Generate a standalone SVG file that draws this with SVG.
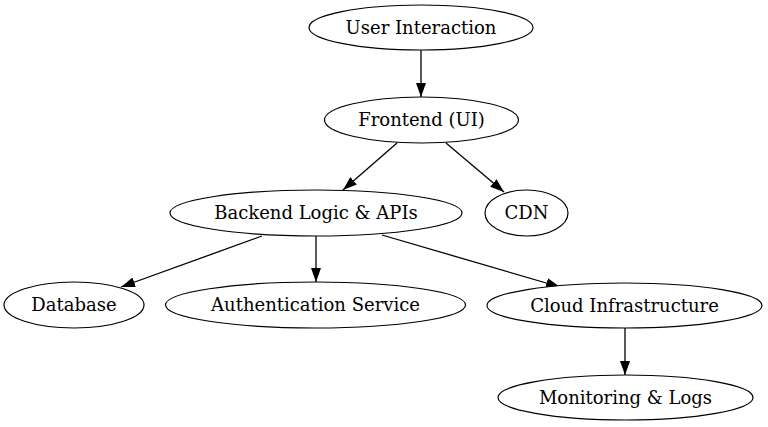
<svg xmlns="http://www.w3.org/2000/svg" width="768" height="427" viewBox="0 0 768 427">
<style>
.n ellipse{fill:#fff;stroke:#000;stroke-width:1.2}
.n text{font-family:"DejaVu Serif",serif;font-size:18px;text-anchor:middle;fill:#000}
.e line{stroke:#000;stroke-width:1.3}
</style>
<defs>
<marker id="a" viewBox="0 0 14 10" refX="14" refY="5" markerWidth="14" markerHeight="10" markerUnits="userSpaceOnUse" orient="auto">
<path d="M0,0L14,5L0,10z" fill="#000"/>
</marker>
</defs>
<rect width="768" height="427" fill="#fff"/>
<g id="edges" class="e">
<line x1="421" y1="50" x2="421" y2="97" marker-end="url(#a)"/>
<line x1="397" y1="143" x2="343" y2="190" marker-end="url(#a)"/>
<line x1="446" y1="143" x2="504" y2="192" marker-end="url(#a)"/>
<line x1="262" y1="236" x2="121" y2="287" marker-end="url(#a)"/>
<line x1="316" y1="236" x2="316" y2="282" marker-end="url(#a)"/>
<line x1="382" y1="235" x2="560" y2="287" marker-end="url(#a)"/>
<line x1="625" y1="328" x2="625" y2="375" marker-end="url(#a)"/>
</g>
<g id="user" class="n"><ellipse cx="421" cy="27.5" rx="112" ry="22.5"/><text x="421" y="33.5">User Interaction</text></g>
<g id="frontend" class="n"><ellipse cx="421.5" cy="120" rx="97" ry="23"/><text x="421.5" y="126">Frontend (UI)</text></g>
<g id="backend" class="n"><ellipse cx="316" cy="213" rx="146" ry="23"/><text x="316" y="219">Backend Logic &amp; APIs</text></g>
<g id="cdn" class="n"><ellipse cx="526.5" cy="213" rx="41.5" ry="23"/><text x="526.5" y="219">CDN</text></g>
<g id="database" class="n"><ellipse cx="74" cy="305" rx="70" ry="23"/><text x="74" y="311">Database</text></g>
<g id="auth" class="n"><ellipse cx="315.5" cy="305" rx="150" ry="23"/><text x="315.5" y="311">Authentication Service</text></g>
<g id="cloud" class="n"><ellipse cx="624.5" cy="305.5" rx="137.5" ry="22.5"/><text x="624.5" y="311.5">Cloud Infrastructure</text></g>
<g id="monitoring" class="n"><ellipse cx="625.5" cy="397.5" rx="127.5" ry="22.5"/><text x="625.5" y="403.5">Monitoring &amp; Logs</text></g>
</svg>
